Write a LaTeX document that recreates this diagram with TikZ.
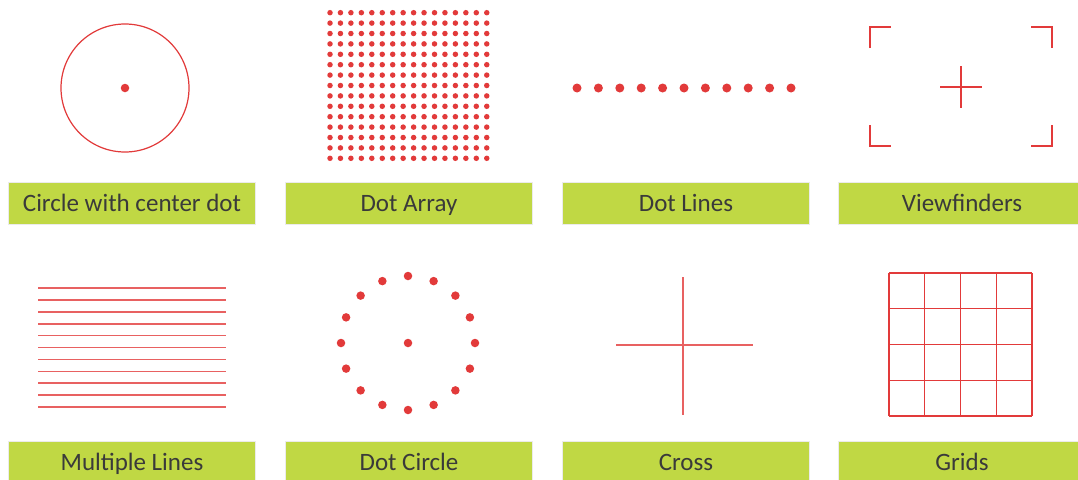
\documentclass[tikz,border=0pt]{standalone}
\usepackage{fontspec}
\setmainfont{Carlito}
\definecolor{mred}{RGB}{226,58,58}
\definecolor{lgreen}{RGB}{192,216,68}
\definecolor{ltext}{RGB}{58,58,58}
\begin{document}
\begin{tikzpicture}[x=1pt,y=-1pt,
  bigdot/.style={circle,fill=mred,inner sep=0pt,minimum size=8.5pt},
  smalldot/.style={circle,fill=mred,inner sep=0pt,minimum size=5.5pt},
  rline/.style={draw=mred,line width=1.2pt},
  lightline/.style={draw=mred!80,line width=1.6pt},
  lbl/.style={fill=lgreen,draw=black!8,line width=1pt,minimum width=247pt,minimum height=42pt,inner sep=0pt,text height=16pt,text depth=0pt,text=ltext,font=\fontsize{25}{29}\selectfont,anchor=north west}]
\useasboundingbox (0,0) rectangle (1078,479);
\fill[white] (0,0) rectangle (1078,479);
% labels
\node[lbl] (l1) at (8,182) {Circle with center dot};
\node[lbl] (l2) at (285,182) {Dot Array};
\node[lbl] (l3) at (562,182) {Dot Lines};
\node[lbl] (l4) at (838,182) {Viewfinders};
\node[lbl] (l5) at (8,441) {Multiple Lines};
\node[lbl] (l6) at (285,441) {Dot Circle};
\node[lbl] (l7) at (562,441) {Cross};
\node[lbl] (l8) at (838,441) {Grids};
% circle with center dot
\draw[rline] (125,88) circle[radius=64];
\node[bigdot] (cd) at (125,88) {};
% dot array
\foreach \i in {0,...,15}{
  \foreach \j in {0,...,14}{
    \node[smalldot] at ({330+\i*10.45},{12.7+\j*10.4}) {};
  }
}
% dot lines
\foreach \i in {0,...,10}{
  \node[bigdot,minimum size=9pt] at ({577+\i*21.4},88) {};
}
% viewfinders
\draw[rline] (870,48) -- (870,27) -- (891,27);
\draw[rline] (1031,27) -- (1052,27) -- (1052,48);
\draw[rline] (870,125) -- (870,146) -- (891,146);
\draw[rline] (1031,146) -- (1052,146) -- (1052,125);
\draw[rline] (940,87) -- (982,87);
\draw[rline] (961,66) -- (961,108);
% multiple lines
\foreach \k in {0,...,10}{
  \draw[lightline] (38,{288+\k*11.9}) -- (226,{288+\k*11.9});
}
% dot circle
\node[bigdot] (dc) at (408,343) {};
\foreach \a in {0,22.5,...,337.5}{
  \node[bigdot] at ({408+67*sin(\a)},{343-67*cos(\a)}) {};
}
% cross
\draw[lightline] (616,345) -- (753,345);
\draw[lightline] (683,277) -- (683,415);
% grids
\foreach \k in {0,...,4}{
  \draw[rline] ({889+\k*35.75},273) -- ({889+\k*35.75},416);
  \draw[rline] (889,{273+\k*35.75}) -- (1032,{273+\k*35.75});
}
\end{tikzpicture}
\end{document}
